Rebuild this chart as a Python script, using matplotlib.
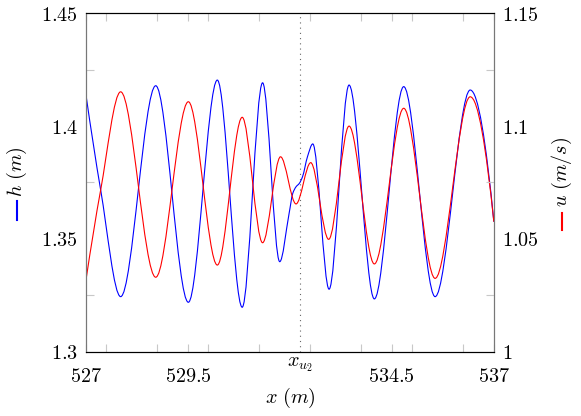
import numpy as np
import matplotlib
matplotlib.use("Agg")
import matplotlib.pyplot as plt
from matplotlib.path import Path
from matplotlib.patches import PathPatch
from matplotlib.lines import Line2D
from matplotlib.ticker import MultipleLocator

plt.rcParams['mathtext.fontset'] = 'cm'
plt.rcParams['font.size'] = 14.5

# points (extrema + a few extra points)
x_h = [527.0, 527.36, 527.85, 528.71, 529.51, 530.22, 530.83, 531.33, 531.75,
       531.98, 532.07, 532.15, 532.23, 532.31, 532.43, 532.56, 532.96, 533.45,
       534.07, 534.79, 535.56, 536.42, 537.0]
h = [1.4138, 1.3717, 1.3244, 1.4179, 1.3219, 1.4204, 1.3197, 1.4192, 1.3399,
     1.3613, 1.3702, 1.3731, 1.3746, 1.3776, 1.3864, 1.3921, 1.3277, 1.4182,
     1.3234, 1.4175, 1.3244, 1.4160, 1.3576]

x_u = [527.0, 527.36, 527.85, 528.71, 529.51, 530.22, 530.83, 531.33, 531.77,
       532.15, 532.51, 532.95, 533.45, 534.07, 534.79, 535.56, 536.42, 537.0]
u = [1.0318, 1.0717, 1.1152, 1.0330, 1.1108, 1.0384, 1.1039, 1.0483, 1.0864,
     1.0655, 1.0838, 1.0498, 1.1000, 1.0389, 1.1079, 1.0325, 1.1130, 1.0576]

x_u2 = 532.24

xtick_vals = [527, 529.5, 534.5, 537]
xtick_labels = ['$527$', '$529.5$', '$534.5$', '$537$']
ytick_h = [1.3, 1.35, 1.4, 1.45]
ytick_h_labels = ['$1.3$', '$1.35$', '$1.4$', '$1.45$']
ytick_u = [1.0, 1.05, 1.1, 1.15]
ytick_u_labels = ['$1$', '$1.05$', '$1.1$', '$1.15$']


def pchip_slopes(x, y):
    x = np.asarray(x, float)
    y = np.asarray(y, float)
    hs = np.diff(x)
    d = np.diff(y) / hs
    m = np.zeros_like(y)
    for k in range(1, len(x) - 1):
        if d[k - 1] * d[k] > 0:
            w1 = 2 * hs[k] + hs[k - 1]
            w2 = hs[k] + 2 * hs[k - 1]
            m[k] = (w1 + w2) / (w1 / d[k - 1] + w2 / d[k])

    def end(h0, h1, d0, d1):
        s = ((2 * h0 + h1) * d0 - h0 * d1) / (h0 + h1)
        if np.sign(s) != np.sign(d0):
            return 0.0
        if np.sign(d0) != np.sign(d1) and abs(s) > 3 * abs(d0):
            return 3 * d0
        return s

    m[0] = end(hs[0], hs[1], d[0], d[1])
    m[-1] = end(hs[-1], hs[-2], d[-1], d[-2])
    return m


def smooth_path(x, y):
    m = pchip_slopes(x, y)
    verts = [(x[0], y[0])]
    codes = [Path.MOVETO]
    for i in range(len(x) - 1):
        dx = x[i + 1] - x[i]
        verts += [(x[i] + dx / 3, y[i] + m[i] * dx / 3),
                  (x[i + 1] - dx / 3, y[i + 1] - m[i + 1] * dx / 3),
                  (x[i + 1], y[i + 1])]
        codes += [Path.CURVE4] * 3
    return Path(verts, codes)


fig = plt.figure(figsize=(5.81, 4.16), dpi=100)
ax = fig.add_axes([0.148, 0.1546, 0.702, 0.8134])
ax2 = ax.twinx()

ax.add_patch(PathPatch(smooth_path(x_h, h), fill=False, edgecolor='blue', lw=0.8))
ax2.add_patch(PathPatch(smooth_path(x_u, u), fill=False, edgecolor='red', lw=0.8))
ax.axvline(x_u2, color='#666666', ls=(0, (1, 3.7)), lw=0.8)

ax.set_xlim(527, 537)
ax.set_ylim(1.3, 1.45)
ax2.set_ylim(1.0, 1.15)

ax.set_xticks(xtick_vals)
ax.set_xticklabels(xtick_labels)
ax.xaxis.set_minor_locator(MultipleLocator(1.25))
ax.set_yticks(ytick_h)
ax.set_yticklabels(ytick_h_labels)
ax.yaxis.set_minor_locator(MultipleLocator(0.025))
ax2.set_yticks(ytick_u)
ax2.set_yticklabels(ytick_u_labels)
ax2.yaxis.set_minor_locator(MultipleLocator(0.025))

gray = '#c8c8c8'
ax.tick_params(axis='x', which='both', direction='in', top=True, bottom=True,
               length=6, width=0.8, color=gray, pad=11)
ax.tick_params(axis='y', which='major', length=0, pad=6)
ax.tick_params(axis='y', which='minor', direction='in', length=6, width=0.8, color=gray)
ax2.tick_params(axis='y', which='major', length=0, pad=6)
ax2.tick_params(axis='y', which='minor', direction='in', length=6, width=0.8, color=gray)

for a in (ax, ax2):
    a.spines['left'].set_color('#777777')
    a.spines['right'].set_color('#777777')
    a.spines['top'].set_color('black')
    a.spines['bottom'].set_color('black')

ax.text(x_u2, -0.01, '$x_{u_2}$', transform=ax.get_xaxis_transform(),
        ha='center', va='top')

fig.text(0.499, 0.043, r'$x\ (m)$', ha='center', va='center')
fig.text(0.0287, 0.5865, r'$h\ (m)$', rotation=90, ha='center', va='center')
fig.text(0.9668, 0.5865, r'$u\ (m/s)$', rotation=90, ha='center', va='center')
fig.add_artist(Line2D([0.0287, 0.0287], [0.471, 0.517], transform=fig.transFigure,
                      color='blue', lw=1.5))
fig.add_artist(Line2D([0.9668, 0.9668], [0.447, 0.488], transform=fig.transFigure,
                      color='red', lw=1.5))

fig.savefig("out.png", dpi=100)
